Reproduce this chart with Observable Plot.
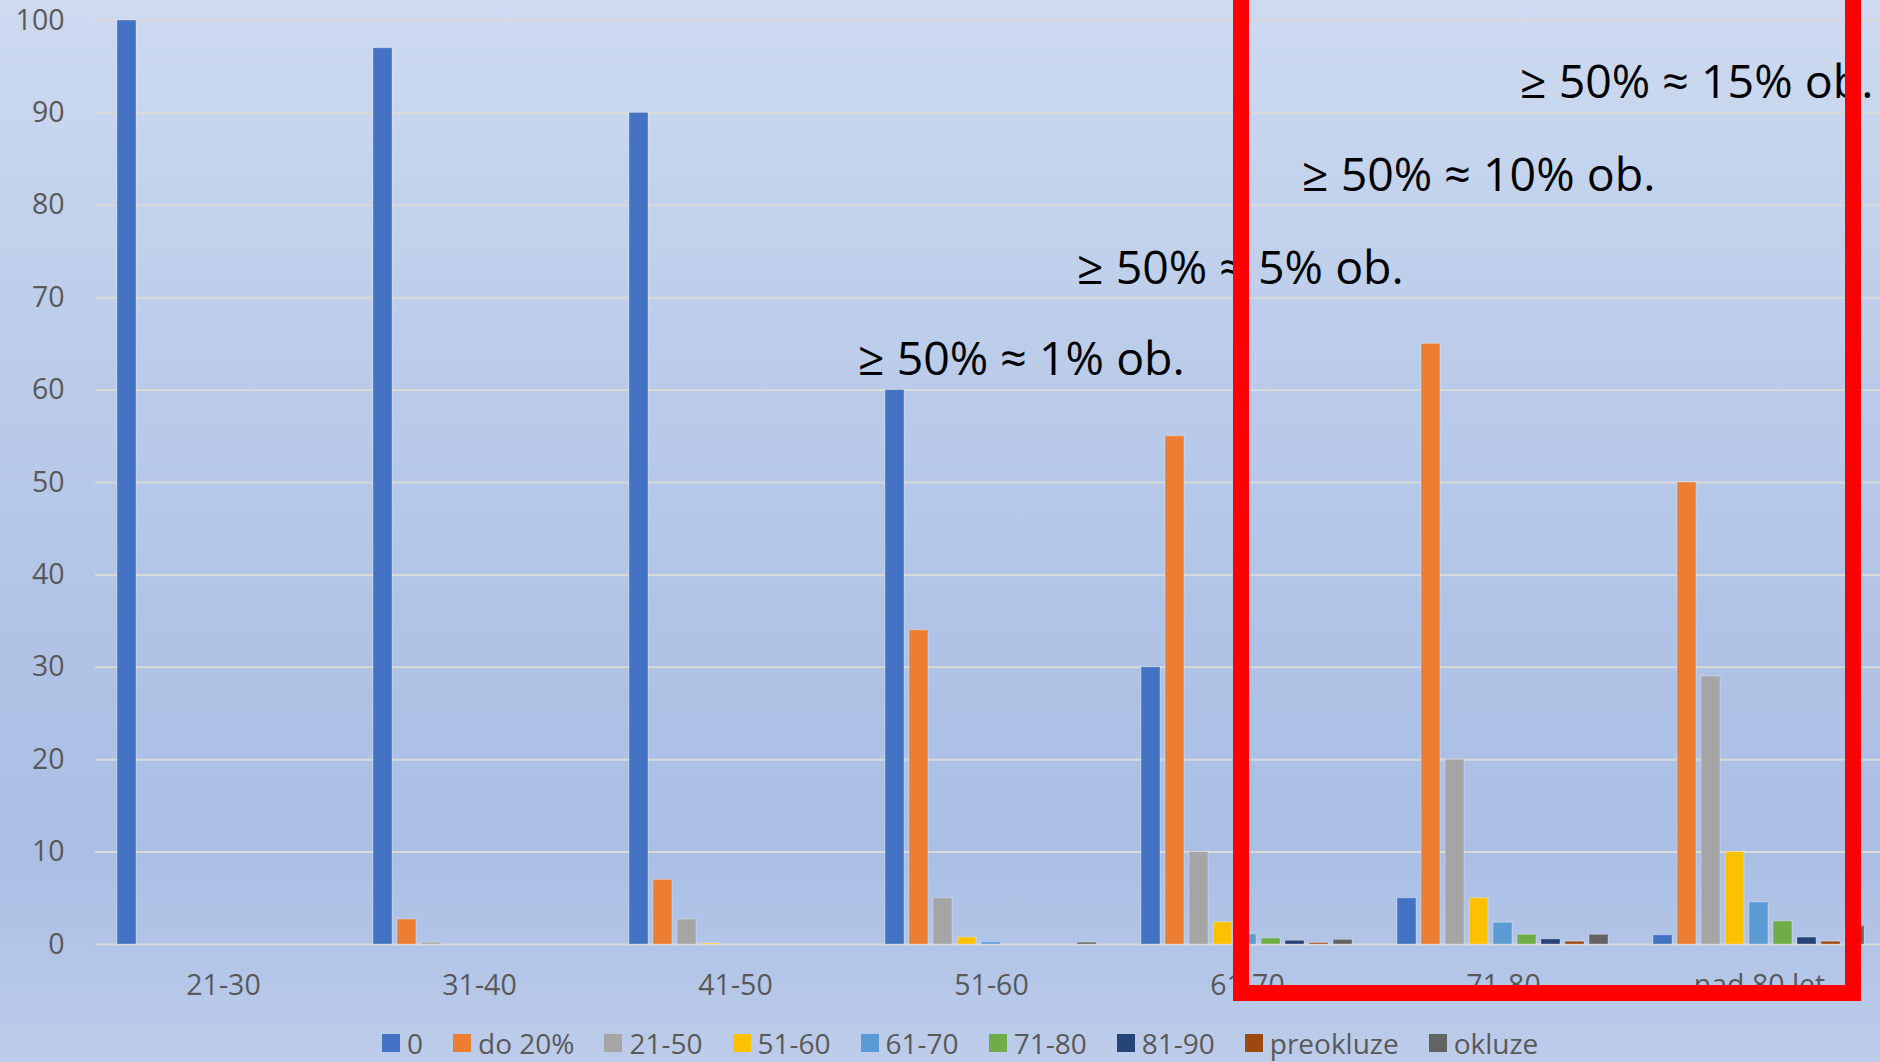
<!DOCTYPE html>
<html><head><meta charset="utf-8">
<script src="https://cdn.jsdelivr.net/npm/d3@7"></script>
<script src="https://cdn.jsdelivr.net/npm/@observablehq/plot@0.6"></script>
<style>
html,body{margin:0;padding:0;overflow:hidden;}
#wrap{position:relative;width:1880px;height:1062px;overflow:hidden;
 background: linear-gradient(180deg,#cddaf0 0px,#bccdea 350px,#aec1e5 700px,#abbfe5 860px,#b5c7e8 980px,#bdccea 1062px);
 font-family:"Open Sans",sans-serif;}
#chart{position:absolute;left:0;top:0;}
#legend{position:absolute;left:382px;top:1029px;line-height:1;}
.lg-swatches{margin:0 !important;line-height:1;}
.lg-swatches-wrap{min-height:28px !important;}
.lg-swatch{margin-right:30px !important;line-height:1;}
.lg-swatch > svg{margin-right:7px !important;}
#overlay{position:absolute;left:0;top:0;}
</style></head><body><div id="wrap"><div id="chart"></div><div id="legend"></div><svg id="overlay" width="1880" height="1062"></svg></div>
<script>
const categories = ["21-30","31-40","41-50","51-60","61-70","71-80","nad 80 let"];
const series = ["0","do 20%","21-50","51-60","61-70","71-80","81-90","preokluze","okluze"];
const colors = ["#4472C4","#ED7D31","#A5A5A5","#FFC000","#5B9BD5","#70AD47","#264478","#9E480E","#636363"];
const yTicks = [0,10,20,30,40,50,60,70,80,90,100];

const s0        = [100, 97, 90, 60, 30, 5, 1];
const sDo20     = [0, 2.7, 7, 34, 55, 65, 50];
const s21_50    = [0, 0.2, 2.7, 5, 10, 20, 29];
const s51_60    = [0, 0, 0.1, 0.75, 2.4, 5, 10];
const s61_70    = [0, 0, 0, 0.25, 1.1, 2.35, 4.55];
const s71_80    = [0, 0, 0, 0, 0.65, 1.05, 2.5];
const s81_90    = [0, 0, 0, 0, 0.4, 0.55, 0.75];
const sPreokl   = [0, 0, 0, 0, 0.15, 0.3, 0.3];
const sOkluze   = [0, 0, 0, 0.2, 0.5, 1.05, 2.0];
const seriesValues = [s0, sDo20, s21_50, s51_60, s61_70, s71_80, s81_90, sPreokl, sOkluze];

const annoText = ["≥ 50% ≈ 1% ob.", "≥ 50% ≈ 5% ob.", "≥ 50% ≈ 10% ob.", "≥ 50% ≈ 15% ob."];
const annoY = [61.6, 71.4, 81.5, 91.6];
const annoX = [858, 1077, 1302, 1520];

const data = [];
series.forEach((s, i) => categories.forEach((c, j) => {
  const v = seriesValues[i][j];
  if (v > 0) data.push({category: c, series: s, value: v});
}));

const chart = Plot.plot({
  width: 1888, height: 1010,
  marginLeft: 94, marginRight: 0, marginTop: 20, marginBottom: 66,
  style: {background: "transparent", maxWidth: "none", fontFamily: "Open Sans", color: "#595959", overflow: "visible"},
  fx: {domain: categories, padding: 0, label: null},
  x: {domain: series, paddingInner: 0.2, paddingOuter: 0.8, axis: null},
  y: {domain: [0, 100]},
  color: {domain: series, range: colors},
  marks: [
    Plot.gridY(yTicks, {stroke: "#d9d9d9", strokeOpacity: 1, strokeWidth: 2}),
    Plot.barY(data, {fx: "category", x: "series", y: "value", fill: "series", stroke: "white", strokeOpacity: 0.3, strokeWidth: 1}),
    Plot.axisY(yTicks, {tickSize: 0, tickPadding: 31, fontSize: 28.5, fill: "#595959", label: null}),
    Plot.axisFx({anchor: "bottom", tickSize: 0, tickPadding: 30, fontSize: 28.5, fill: "#595959", label: null})
  ]
});
document.getElementById("chart").appendChild(chart);

const legend = Plot.legend({
  color: {domain: series, range: colors},
  legend: "swatches", swatchSize: 18, className: "lg",
  style: {fontSize: "28px", fontFamily: "Open Sans", color: "#595959", lineHeight: "1"}
});
document.getElementById("legend").appendChild(legend);

const yScale = chart.scale("y");
const ov = d3.select("#overlay");
ov.selectAll("text.anno").data(annoText).join("text")
  .attr("class", "anno")
  .attr("x", (d, i) => annoX[i])
  .attr("y", (d, i) => yScale.apply(annoY[i]))
  .attr("font-family", "Open Sans")
  .attr("font-size", 46.5)
  .attr("fill", "#000")
  .text(d => d);
ov.append("rect")
  .attr("x", 1241).attr("y", -20)
  .attr("width", 612).attr("height", 1013)
  .attr("fill", "none").attr("stroke", "#ff0000").attr("stroke-width", 16);
</script>
</body></html>
